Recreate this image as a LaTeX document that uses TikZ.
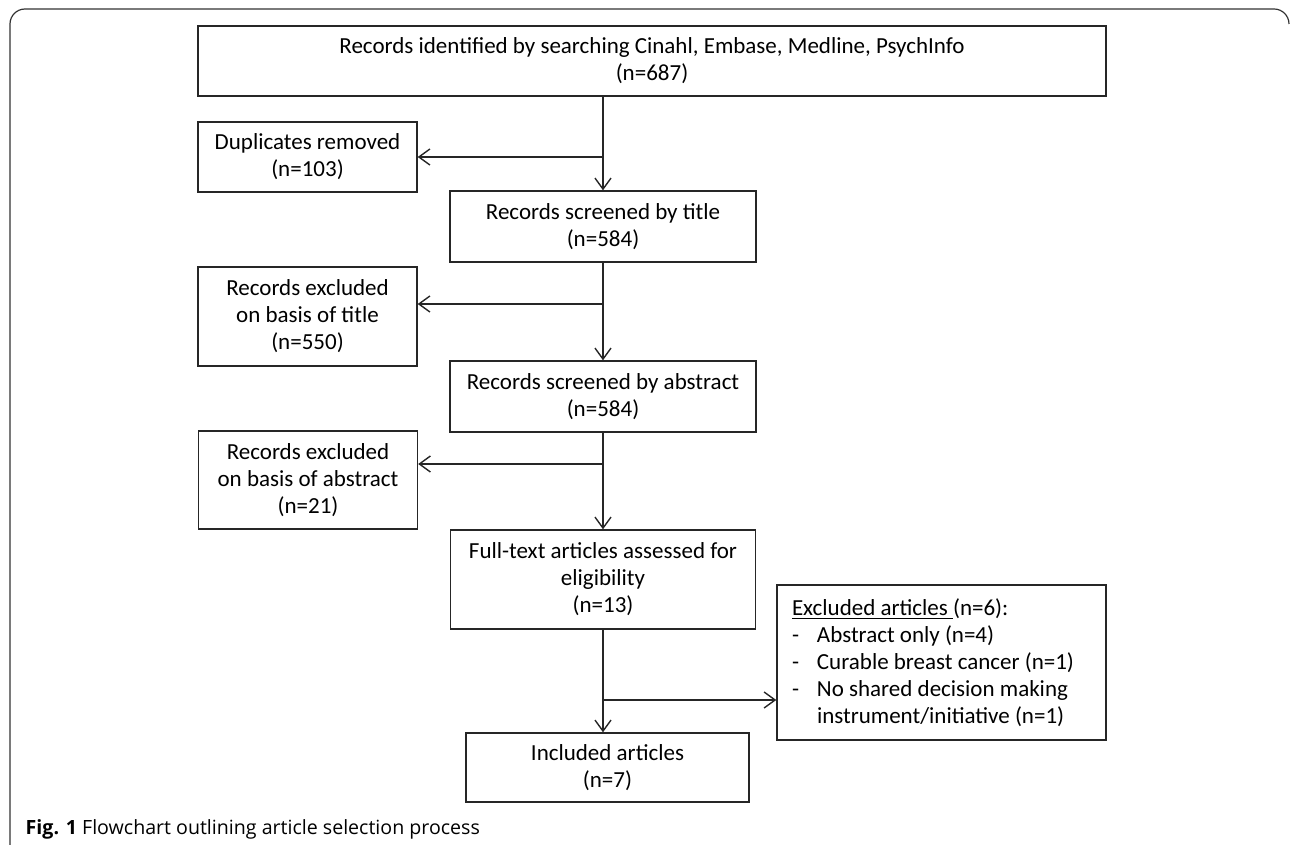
\documentclass[tikz,border=0pt]{standalone}
\usepackage{fontspec}
\setmainfont{Carlito}
\newfontfamily\capfont{Open Sans}
\usetikzlibrary{arrows.meta,positioning}

\begin{document}
\begin{tikzpicture}[x=0.5pt, y=-0.5pt, >={Straight Barb[length=5.5pt,width=8pt]}, line width=0.7pt]
    \tikzstyle{box} = [draw=black!85, rectangle, inner sep=0pt, align=center, font=\fontsize{11.5}{13.5}\selectfont]
    \tikzstyle{line} = [draw=black!85, ->]

    \useasboundingbox (0,0) rectangle (1292,845);
    % outer frame
    \draw [black!80, line width=0.6pt, rounded corners=7.5pt] (10,845) -- (10,9) -- (1289,9) -- (1289,24);

    \node [box, minimum width=454pt, minimum height=35pt] (src) at (652,61) {Records identified by searching Cinahl, Embase, Medline, PsychInfo\\(n=687)};
    \node [box, minimum width=109.5pt, minimum height=35pt] (dup) at (307.5,157) {Duplicates removed\\(n=103)};
    \node [box, minimum width=153pt, minimum height=35.5pt] (title) at (603,226.5) {Records screened by title\\(n=584)};
    \node [box, minimum width=109.5pt, minimum height=49.5pt] (extitle) at (307.5,316.5) {Records excluded\\on basis of title\\(n=550)};
    \node [box, minimum width=153pt, minimum height=35.5pt] (abstr) at (603,396.5) {Records screened by abstract\\(n=584)};
    \node [box, minimum width=109.5pt, minimum height=49pt] (exabs) at (308,480) {Records excluded\\on basis of abstract\\(n=21)};
    \node [box, minimum width=152.5pt, minimum height=49.5pt] (full) at (603,579.5) {Full-text articles assessed for\\eligibility\\(n=13)};
    \node [box, align=flush left, text width=149.5pt, inner xsep=7.5pt, minimum height=77.5pt] (excl) at (941.5,662.5)
        {\underline{Excluded articles }(n=6):\\
         \makebox[12.5pt][l]{-}Abstract only (n=4)\\
         \makebox[12.5pt][l]{-}Curable breast cancer (n=1)\\
         \makebox[12.5pt][l]{-}No shared decision making\\
         \hspace*{12.5pt}instrument/initiative (n=1)};
    \node [box, minimum width=141.5pt, minimum height=34.5pt] (incl) at (607.5,767.5) {Included articles\\(n=7)};

    % branch points on the main line
    \coordinate (b1) at (603,157);
    \coordinate (b2) at (603,304);
    \coordinate (b3) at (603,464);
    \coordinate (b4) at (603,700);

    \draw [line] (src.south -| title.north) -- (title.north);
    \draw [line] (title.south) -- (abstr.north);
    \draw [line] (abstr.south) -- (full.north);
    \draw [line] (full.south) -- (full.south |- incl.north);
    \draw [line] (b1) -- (dup.east);
    \draw [line] (b2) -- (b2 -| extitle.east);
    \draw [line] (b3) -- (b3 -| exabs.east);
    \draw [line] (b4) -- (b4 -| excl.west);

    % caption
    \node [anchor=base west, inner sep=0pt, font=\capfont\fontsize{9.8}{12}\selectfont] (cap) at (25,834) {\textbf{Fig. 1} Flowchart outlining article selection process};
\end{tikzpicture}
\end{document}
